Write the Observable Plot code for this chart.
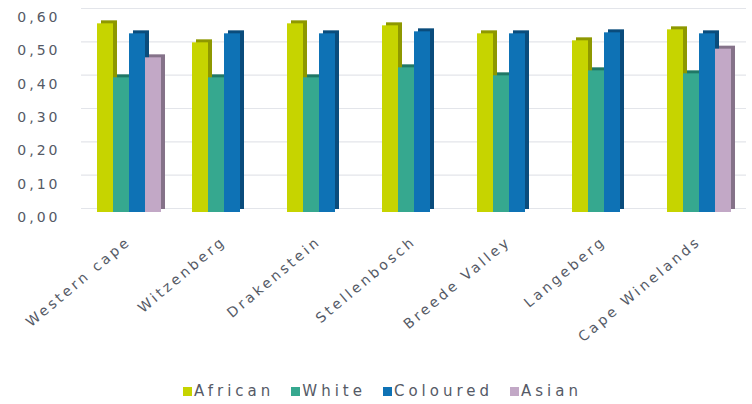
<!DOCTYPE html>
<html>
<head>
<meta charset="utf-8">
<script src="https://cdn.jsdelivr.net/npm/d3@7"></script>
<script src="https://cdn.jsdelivr.net/npm/@observablehq/plot@0.6"></script>
<style>
  html, body { margin: 0; padding: 0; background: #fff; }
  #chart { width: 752px; height: 404px; overflow: hidden; }
  .legend { display: flex; align-items: center; height: 26px; padding-left: 183px;
    font-family: "DejaVu Sans", sans-serif; font-size: 15px; letter-spacing: 4px; color: #555a66; }
  .legend .item { display: flex; align-items: center; margin-right: 17px; }
  .legend .sw { width: 9px; height: 9px; margin-right: 2px; display: inline-block; }
</style>
</head>
<body>
<div id="chart"></div>
<script>
const categories = ["Western cape", "Witzenberg", "Drakenstein", "Stellenbosch", "Breede Valley", "Langeberg", "Cape Winelands"];
const series = ["African", "White", "Coloured", "Asian"];
const african  = [0.566, 0.509, 0.566, 0.560, 0.536, 0.515, 0.548];
const white    = [0.404, 0.404, 0.404, 0.434, 0.410, 0.425, 0.416];
const coloured = [0.536, 0.536, 0.536, 0.542, 0.536, 0.539, 0.536];
const asian    = [0.464, null, null, null, null, null, 0.490];
const yTicks = [0, 0.1, 0.2, 0.3, 0.4, 0.5, 0.6];
const colors = ["#c6d400", "#36a88f", "#0e72b5", "#c2a8c6"];
const sideColors = ["#8e9800", "#1f7866", "#0a4c7c", "#857289"];

const valuesBySeries = [african, white, coloured, asian];
const rows = [];
series.forEach((s, si) => {
  categories.forEach((c, ci) => {
    const v = valuesBySeries[si][ci];
    if (v != null) rows.push({category: c, series: s, value: v});
  });
});

const barMarks = [];
series.forEach((s, si) => {
  const d = rows.filter(r => r.series === s);
  barMarks.push(Plot.barY(d, {fx: "category", x: "series", y: "value", fill: sideColors[si], dx: 4, dy: -3, inset: 0}));
  barMarks.push(Plot.barY(d, {fx: "category", x: "series", y: "value", fill: colors[si], inset: 0}));
});

const plot = Plot.plot({
  width: 752,
  height: 378,
  marginTop: 12,
  marginBottom: 166,
  marginLeft: 81,
  marginRight: 6,
  style: {fontFamily: "DejaVu Sans, sans-serif", fontSize: "14px", color: "#555a66", letterSpacing: "3px", background: "#fff"},
  fx: {domain: categories, padding: 0, label: null},
  x: {domain: series, paddingInner: 0, paddingOuter: 0.84, axis: null},
  y: {domain: [0, 0.6], axis: null},
  marks: [
    Plot.ruleY(yTicks, {stroke: "#e3e5ea", strokeWidth: 1.2, dy: -4}),
    ...barMarks,
    Plot.axisY(yTicks, {tickSize: 0, tickPadding: 21, dy: 5, tickFormat: d => d.toFixed(2).replace(".", ","), label: null}),
    Plot.axisFx({anchor: "bottom", tickSize: 0, tickPadding: 27, tickRotate: -40, dx: 0, label: null})
  ]
});
document.getElementById("chart").appendChild(plot);

const legend = document.createElement("div");
legend.className = "legend";
series.forEach((s, i) => {
  const item = document.createElement("span");
  item.className = "item";
  const sw = document.createElement("span");
  sw.className = "sw";
  sw.style.background = colors[i];
  item.appendChild(sw);
  item.appendChild(document.createTextNode(s));
  legend.appendChild(item);
});
document.getElementById("chart").appendChild(legend);
</script>
</body>
</html>
